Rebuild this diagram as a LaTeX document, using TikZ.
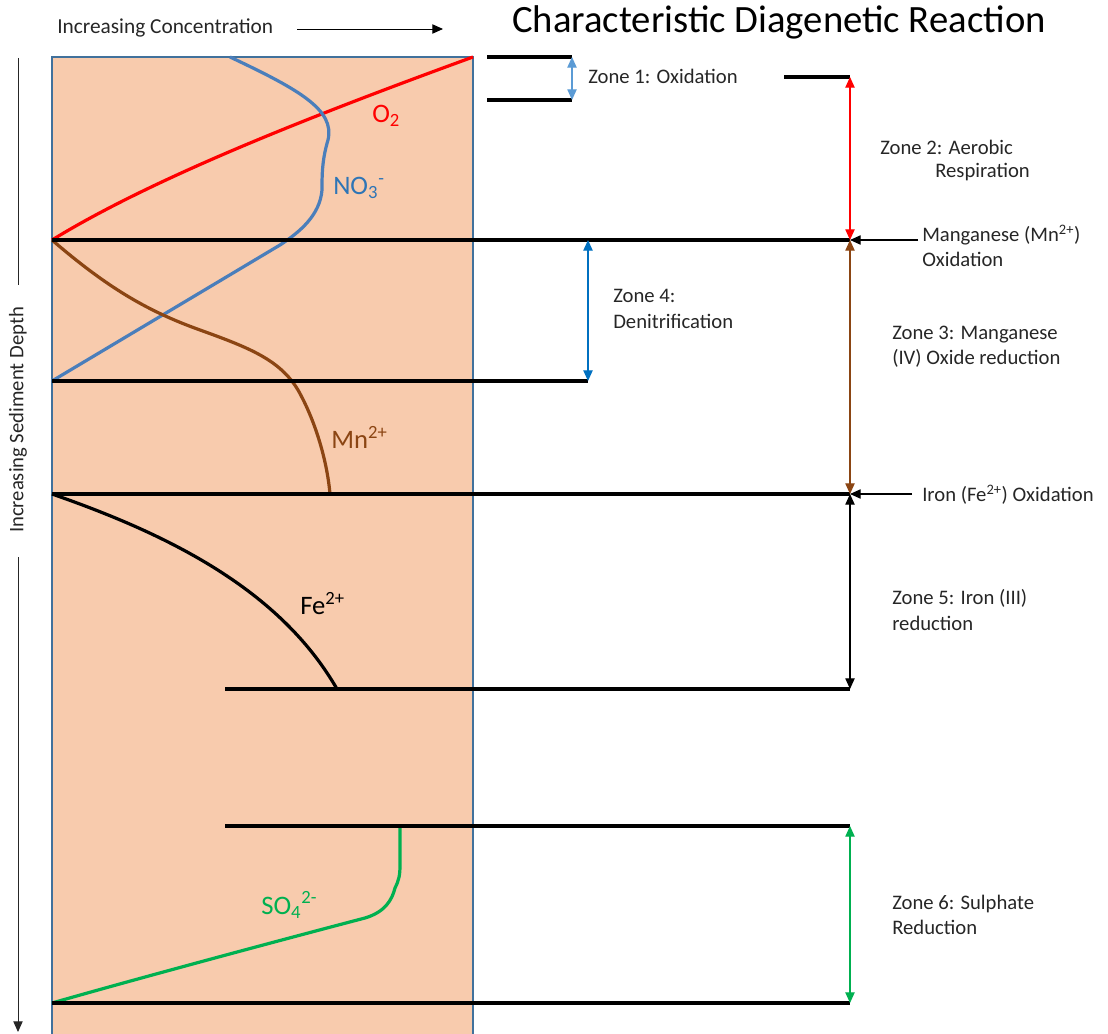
\documentclass[tikz,border=0pt]{standalone}
\usepackage{fontspec}
\setmainfont{Carlito}
\usetikzlibrary{arrows.meta}
\definecolor{peach}{HTML}{F8CBAD}
\definecolor{boxblue}{HTML}{41719C}
\definecolor{nocurve}{HTML}{4A7EBB}
\definecolor{nolabel}{HTML}{2E75B6}
\definecolor{lightblue}{HTML}{5B9BD5}
\definecolor{darkblue}{HTML}{0070C0}
\definecolor{mnbrown}{HTML}{8B4513}
\definecolor{sgreen}{HTML}{00B050}
\definecolor{txt}{HTML}{262626}
\begin{document}
\begin{tikzpicture}[x=0.75pt,y=-0.75pt,
  zline/.style={line width=2.4pt,black},
  curve/.style={line width=2.4pt},
  zarrow/.style={line width=0.9pt,{Triangle[length=8pt,width=7pt]}-{Triangle[length=8pt,width=7pt]}},
  ptr/.style={line width=0.8pt,-{Triangle[length=8pt,width=7pt]}},
  lab/.style={anchor=west,font=\fontsize{15.5}{19}\selectfont,text=txt,inner sep=0pt,align=left},
  clab/.style={anchor=west,font=\fontsize{20}{24}\selectfont,inner sep=0pt}]
\useasboundingbox (0,0) rectangle (1108,1034);
% box
\fill[peach] (52,57) rectangle (473,1034);
\draw[boxblue,line width=0.8pt] (52,1034) -- (52,57) -- (473,57) -- (473,1034);
% coordinates
\coordinate (z1a) at (487,57);   \coordinate (z1b) at (572,57);
\coordinate (z1c) at (487,100);  \coordinate (z1d) at (572,100);
\coordinate (z2a) at (784,77);   \coordinate (z2b) at (850,77);
\coordinate (mnL) at (52,240);   \coordinate (mnR) at (850,240);
\coordinate (noL) at (52,381);   \coordinate (noR) at (588,381);
\coordinate (noT) at (588,240);
\coordinate (feL) at (52,494);   \coordinate (feR) at (850,494);
\coordinate (f2L) at (225,689);  \coordinate (f2R) at (850,689);
\coordinate (s1L) at (225,826);  \coordinate (s1R) at (850,826);
\coordinate (s2L) at (52,1003);  \coordinate (s2R) at (850,1003);
\coordinate (o2top) at (473,57);
\coordinate (notop) at (230,57);
\coordinate (mnend) at (330,494);
\coordinate (feend) at (337,689);
\coordinate (soend) at (400,826);
\coordinate (mnptr) at (918,240);
\coordinate (feptr) at (912,494);
% curves
\draw[curve,red] (mnL) .. controls (150,180) and (300,120) .. (o2top);
\draw[curve,nocurve] (notop) .. controls (300,90) and (335,110) .. (328,140)
   .. controls (322,160) and (322,175) .. (322,190)
   .. controls (320,215) and (300,232) .. (280,245) -- (noL);
\draw[curve,mnbrown] (mnL) .. controls (110,290) and (150,312) .. (200,330)
   .. controls (250,348) and (280,360) .. (298,390)
   .. controls (315,420) and (327,460) .. (mnend);
\draw[curve,black] (feL) .. controls (170,535) and (280,590) .. (feend);
\draw[curve,sgreen] (s2L) .. controls (150,975) and (300,935) .. (365,918)
   .. controls (385,912) and (392,900) .. (395,888)
   .. controls (399,880) and (400,875) .. (400,865) -- (soend);
% zone lines
\draw[zline] (z1a) -- (z1b);
\draw[zline] (z1c) -- (z1d);
\draw[zline] (z2a) -- (z2b);
\draw[zline] (mnL) -- (mnR);
\draw[zline] (noL) -- (noR);
\draw[zline] (feL) -- (feR);
\draw[zline] (f2L) -- (f2R);
\draw[zline] (s1L) -- (s1R);
\draw[zline] (s2L) -- (s2R);
% zone arrows
\draw[zarrow,lightblue] (z1b) -- (z1d);
\draw[zarrow,red] (z2b) -- (mnR);
\draw[zarrow,mnbrown] (mnR) -- (feR);
\draw[zarrow,darkblue] (noT) -- (noR);
\draw[zarrow,black] (feR) -- (f2R);
\draw[zarrow,sgreen] (s1R) -- (s2R);
\draw[ptr] (mnptr) -- (mnR);
\draw[ptr] (feptr) -- (feR);
% curve labels
\node[clab,red] (lo2) at (372,116) {O\textsubscript{2}};
\node[clab,nolabel] (lno3) at (333,188) {NO\textsubscript{3}\textsuperscript{-}};
\node[clab,mnbrown] (lmn) at (331,437) {Mn\textsuperscript{2+}};
\node[clab,black] (lfe) at (300,604) {Fe\textsuperscript{2+}};
\node[clab,sgreen] (lso) at (261,905) {SO\textsubscript{4}\textsuperscript{2-}};
% zone labels
\node[lab] (t1) at (588,76) {Zone 1: Oxidation};
\node[lab] (t2) at (880,147) {Zone 2: Aerobic};
\node[lab] (t2b) at (935,172) {Respiration};
\node[lab] (tmn) at (922,246) {Manganese (Mn\textsuperscript{2+})\\Oxidation};
\node[lab] (t4) at (613,309) {Zone 4:\\Denitrification};
\node[lab] (t3) at (892,347) {Zone 3: Manganese\\(IV) Oxide reduction};
\node[lab] (tfe) at (922,495) {Iron (Fe\textsuperscript{2+}) Oxidation};
\node[lab] (t5) at (892,610) {Zone 5: Iron (III)\\reduction};
\node[lab] (t6) at (892,915) {Zone 6: Sulphate\\Reduction};
% header
\node[anchor=west,inner sep=0pt,font=\fontsize{29}{33}\selectfont] (title) at (512,22) {Characteristic Diagenetic Reaction};
\node[lab,font=\fontsize{16}{19}\selectfont] (conc) at (57,28) {Increasing Concentration};
\coordinate (ca) at (297,29); \coordinate (cb) at (443,29);
\draw[ptr,line width=0.7pt] (ca) -- (cb);
% depth axis
\node[lab,anchor=center,rotate=90] (depth) at (18,420) {Increasing Sediment Depth};
\coordinate (da) at (18,58); \coordinate (db) at (18,285);
\coordinate (dc) at (18,557); \coordinate (dd) at (18,1032);
\draw[line width=0.7pt,txt] (da) -- (db);
\draw[ptr,line width=0.7pt,txt] (dc) -- (dd);
\end{tikzpicture}
\end{document}
